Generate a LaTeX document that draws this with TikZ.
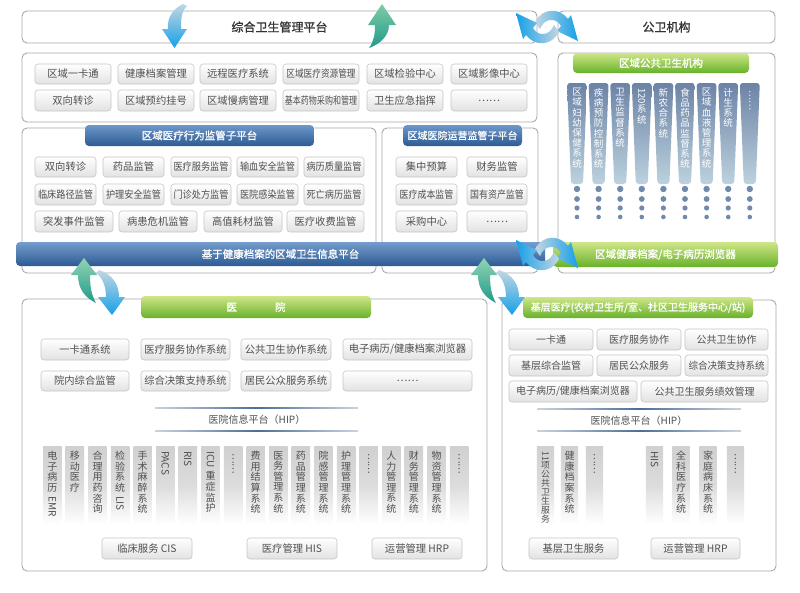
\documentclass[tikz,border=0pt]{standalone}
\usepackage{fontspec}
\usepackage{graphicx}
\setmainfont{Noto Sans CJK SC}
\newfontfamily\bcjk[FakeBold=1]{Noto Sans CJK SC}
\definecolor{bordc}{HTML}{A8A8A8}
\definecolor{btnb}{HTML}{C6C6C6}
\definecolor{btnbot}{HTML}{E2E2E2}
\definecolor{txt}{HTML}{505050}
\definecolor{ttl}{HTML}{333333}
\definecolor{bluet}{HTML}{6E98CA}
\definecolor{blueb}{HTML}{2C5A92}
\definecolor{greent}{HTML}{CFE688}
\definecolor{greenb}{HTML}{68B22A}
\definecolor{pcolt}{HTML}{6C83A6}
\definecolor{pcolb}{HTML}{BCD2DE}
\definecolor{dotc}{HTML}{7089AC}
\definecolor{arrb}{HTML}{15A0E8}
\definecolor{arrp}{HTML}{C3D6E2}
\definecolor{arrg}{HTML}{7ECCA5}
\definecolor{arrgd}{HTML}{1F9A8A}
\definecolor{hipc}{HTML}{4E6E96}
\definecolor{hcol}{HTML}{D0D0D0}
\newcommand\rl[1]{\rotatebox[origin=c]{-90}{#1}}
\newcommand\sq[2][0.89]{\scalebox{#1}[1]{#2}}
\newcommand\mk[7]{\node[#1,minimum width={#5-#3},minimum height={#6-#4}] (#2) at ({(#3+#5)/2},{(#4+#6)/2}) {#7};}
\begin{document}
\begin{tikzpicture}[x=1pt,y=-1pt,
  boxst/.style={draw=bordc,line width=0.9pt,rounded corners=5pt,fill=white,inner sep=0pt},
  ttlf/.style={font=\bcjk\fontsize{12}{14}\selectfont,text=ttl},
  btn/.style={draw=btnb,line width=0.6pt,rounded corners=3pt,top color=white,bottom color=btnbot,text=txt,font=\fontsize{10.3}{12}\selectfont,inner sep=0pt},
  hb/.style={top color=bluet,bottom color=blueb,rounded corners=4pt,text=white,font=\bcjk\fontsize{10.5}{12}\selectfont,inner sep=0pt},
  hg/.style={top color=greent,bottom color=greenb,rounded corners=4pt,text=white,font=\bcjk\fontsize{10.5}{12}\selectfont,inner sep=0pt},
  vt/.style={anchor=north,align=center,inner sep=0pt,text=txt,font=\fontsize{10}{10.6}\selectfont},
  vtw/.style={anchor=north,align=center,inner sep=0pt,text=white,font=\fontsize{9.5}{10.2}\selectfont},
  hiptxt/.style={text=txt,font=\fontsize{10}{12}\selectfont,inner sep=0pt}]
\useasboundingbox (0,0) rectangle (800,592);
\fill[white] (0,0) rectangle (800,592);

% ---------- boxes ----------
\mk{boxst,ttlf}{top}{22}{11}{537}{43}{综合卫生管理平台}
\mk{boxst,ttlf}{gw}{558}{11}{775}{43}{公卫机构}
\mk{boxst}{fun}{22}{53}{537}{122}{}
\mk{boxst}{pub}{558}{53}{775}{273}{}
\mk{boxst}{mon}{22}{128}{376}{273}{}
\mk{boxst}{ops}{382}{128}{538}{273}{}
\mk{boxst}{hos}{22}{299}{487}{571}{}
\mk{boxst}{bas}{502}{300}{776}{571}{}

% ---------- function buttons ----------
\mk{btn}{f1}{35}{64}{111}{84}{区域一卡通}
\mk{btn}{f2}{118}{64}{194}{84}{健康档案管理}
\mk{btn}{f3}{200}{64}{276}{84}{远程医疗系统}
\mk{btn}{f4}{283}{64}{359}{84}{\sq[0.84]{区域医疗资源管理}}
\mk{btn}{f5}{367}{64}{443}{84}{区域检验中心}
\mk{btn}{f6}{451}{64}{527}{84}{区域影像中心}
\mk{btn}{f7}{35}{90}{111}{111}{双向转诊}
\mk{btn}{f8}{118}{90}{194}{111}{区域预约挂号}
\mk{btn}{f9}{200}{90}{276}{111}{区域慢病管理}
\mk{btn}{f10}{283}{90}{359}{111}{\sq[0.78]{基本药物采购和管理}}
\mk{btn}{f11}{367}{90}{443}{111}{卫生应急指挥}
\mk{btn}{f12}{451}{90}{527}{111}{……}

% ---------- monitoring sub-platform ----------
\mk{hb}{monh}{85}{125}{314}{146}{区域医疗行为监管子平台}
\mk{btn}{m1}{35}{157}{96}{177}{双向转诊}
\mk{btn}{m2}{103}{157}{164}{177}{药品监管}
\mk{btn}{m3}{171}{157}{231}{177}{\sq{医疗服务监管}}
\mk{btn}{m4}{237}{157}{298}{177}{\sq{输血安全监管}}
\mk{btn}{m5}{304}{157}{364}{177}{\sq{病历质量监管}}
\mk{btn}{m6}{35}{184}{96}{205}{\sq{临床路径监管}}
\mk{btn}{m7}{103}{184}{164}{205}{\sq{护理安全监管}}
\mk{btn}{m8}{171}{184}{231}{205}{\sq{门诊处方监管}}
\mk{btn}{m9}{237}{184}{298}{205}{\sq{医院感染监管}}
\mk{btn}{m10}{304}{184}{364}{205}{\sq{死亡病历监管}}
\mk{btn}{m11}{35}{211}{113}{232}{突发事件监管}
\mk{btn}{m12}{119}{211}{197}{232}{病患危机监管}
\mk{btn}{m13}{204}{211}{282}{232}{高值耗材监管}
\mk{btn}{m14}{287}{211}{364}{232}{医疗收费监管}

% ---------- operations sub-platform ----------
\mk{hb,font=\bcjk\fontsize{10}{12}\selectfont}{opsh}{403}{125}{522}{146}{区域医院运营监管子平台}
\mk{btn}{o1}{396}{157}{457}{177}{集中预算}
\mk{btn}{o2}{467}{157}{527}{177}{财务监管}
\mk{btn}{o3}{396}{184}{457}{205}{\sq[0.87]{医疗成本监管}}
\mk{btn}{o4}{467}{184}{527}{205}{\sq[0.87]{国有资产监管}}
\mk{btn}{o5}{396}{211}{457}{232}{采购中心}
\mk{btn}{o6}{467}{211}{527}{232}{……}

% ---------- public health institutions ----------
\mk{hg}{pubh}{573}{53}{749}{73}{区域公共卫生机构}
\foreach \i in {0,...,8}{
  \pgfmathsetmacro\cx{577+21.6*\i}
  \shade[top color=pcolt,bottom color=pcolb,rounded corners=3pt]
    ({\cx-10},83) -- ({\cx+10},83) -- ({\cx+6},184) -- ({\cx-6},184) -- cycle;
  \fill[dotc] (\cx,189) circle (3.2);
  \fill[dotc] (\cx,199) circle (2.9);
  \fill[dotc] (\cx,208) circle (2.6);
  \fill[dotc] (\cx,217) circle (2.3);
}
\node[vtw] (p1) at (577,88) {区\\域\\妇\\幼\\保\\健\\系\\统};
\node[vtw] (p2) at (598.6,88) {疾\\病\\预\\防\\控\\制\\系\\统};
\node[vtw] (p3) at (620.2,88) {卫\\生\\监\\督\\系\\统};
\node[vtw] (p4) at (641.8,88) {\rl{120}\\系\\统};
\node[vtw] (p5) at (663.4,88) {新\\农\\合\\系\\统};
\node[vtw] (p6) at (685,88) {食\\品\\药\\品\\监\\督\\系\\统};
\node[vtw] (p7) at (706.6,88) {区\\域\\血\\液\\管\\理\\系\\统};
\node[vtw] (p8) at (728.2,88) {计\\生\\系\\统};
\node[vtw] (p9) at (749.8,90) {\rl{……}};

% ---------- regional platform bars ----------
\mk{hb,top color=bluet!95!white}{plat}{16}{242}{545}{266}{基于健康档案的区域卫生信息平台}
\mk{hg}{brw}{553}{242}{778}{267}{区域健康档案/电子病历浏览器}

% ---------- hospital ----------
\mk{hg}{hosh}{141}{296}{371}{318}{医\hspace{38pt}院}
\mk{btn}{h1}{41}{339}{129}{360}{一卡通系统}
\mk{btn}{h2}{141}{339}{230}{360}{医疗服务协作系统}
\mk{btn}{h3}{241}{339}{331}{360}{公共卫生协作系统}
\mk{btn}{h4}{343}{339}{472}{360}{电子病历/健康档案浏览器}
\mk{btn}{h5}{41}{371}{129}{391}{院内综合监管}
\mk{btn}{h6}{141}{371}{230}{391}{综合决策支持系统}
\mk{btn}{h7}{241}{371}{331}{391}{居民公众服务系统}
\mk{btn}{h8}{343}{371}{472}{391}{……}
\shade[left color=hipc!30,right color=hipc!30,middle color=hipc] (155,407.4) rectangle (358,408.9);
\shade[left color=hipc!30,right color=hipc!30,middle color=hipc] (155,430.4) rectangle (358,431.9);
\node[hiptxt] (hip1) at (257,420) {医院信息平台（HIP）};
\foreach \i in {0,...,18}{
  \pgfmathsetmacro\cx{52.3+22.6*\i}
  \shade[top color=hcol,bottom color=white,middle color=hcol!75] ({\cx-9.2},446) rectangle ({\cx+9.2},524);
}
\node[vt] (c1) at (52.3,451) {电\\子\\病\\历\\[3pt]\rl{EMR}};
\node[vt] (c2) at (74.9,451) {移\\动\\医\\疗};
\node[vt] (c3) at (97.5,451) {合\\理\\用\\药\\咨\\询};
\node[vt] (c4) at (120.1,451) {检\\验\\系\\统\\[3pt]\rl{LIS}};
\node[vt] (c5) at (142.7,451) {手\\术\\麻\\醉\\系\\统};
\node[vt] (c6) at (165.3,451) {\rl{PACS}};
\node[vt] (c7) at (187.9,451) {\rl{RIS}};
\node[vt] (c8) at (210.5,451) {\rl{ICU}\\[3pt]重\\症\\监\\护};
\node[vt] (c9) at (233.1,453) {\rl{……}};
\node[vt] (c10) at (255.7,451) {费\\用\\结\\算\\系\\统};
\node[vt] (c11) at (278.3,451) {医\\务\\管\\理\\系\\统};
\node[vt] (c12) at (300.9,451) {药\\品\\管\\理\\系\\统};
\node[vt] (c13) at (323.5,451) {院\\感\\管\\理\\系\\统};
\node[vt] (c14) at (346.1,451) {护\\理\\管\\理\\系\\统};
\node[vt] (c15) at (368.7,453) {\rl{……}};
\node[vt] (c16) at (391.3,451) {人\\力\\管\\理\\系\\统};
\node[vt] (c17) at (413.9,451) {财\\务\\管\\理\\系\\统};
\node[vt] (c18) at (436.5,451) {物\\资\\管\\理\\系\\统};
\node[vt] (c19) at (459.1,453) {\rl{……}};
\mk{btn}{cis}{102}{538}{192}{559}{临床服务 CIS}
\mk{btn}{his}{247}{538}{337}{559}{医疗管理 HIS}
\mk{btn}{hrp}{372}{538}{462}{559}{运营管理 HRP}

% ---------- primary care ----------
\mk{hg,font=\bcjk\fontsize{10}{12}\selectfont}{bash}{523}{297}{753}{318}{基层医疗(农村卫生所/室、社区卫生服务中心/站)}
\mk{btn,font=\fontsize{10}{12}\selectfont}{k1}{509}{329}{593}{350}{一卡通}
\mk{btn,font=\fontsize{10}{12}\selectfont}{k2}{597}{329}{681}{350}{医疗服务协作}
\mk{btn,font=\fontsize{10}{12}\selectfont}{k3}{685}{329}{768}{350}{公共卫生协作}
\mk{btn,font=\fontsize{10}{12}\selectfont}{k4}{509}{355}{593}{376}{基层综合监管}
\mk{btn,font=\fontsize{10}{12}\selectfont}{k5}{597}{355}{681}{376}{居民公众服务}
\mk{btn,font=\fontsize{10}{12}\selectfont}{k6}{685}{355}{768}{376}{\sq[0.95]{综合决策支持系统}}
\mk{btn,font=\fontsize{10}{12}\selectfont}{k7}{509}{381}{637}{402}{电子病历/健康档案浏览器}
\mk{btn,font=\fontsize{10}{12}\selectfont}{k8}{641}{381}{768}{402}{公共卫生服务绩效管理}
\shade[left color=hipc!30,right color=hipc!30,middle color=hipc] (537,408.4) rectangle (741,409.9);
\shade[left color=hipc!30,right color=hipc!30,middle color=hipc] (537,430.4) rectangle (741,431.9);
\node[hiptxt] (hip2) at (639,421) {医院信息平台（HIP）};
\foreach \cx in {545.5,569.5,594.5,654.5,681,708,735.5}{
  \shade[top color=hcol,bottom color=white,middle color=hcol!75] ({\cx-8.7},446) rectangle ({\cx+8.7},524);
}
\node[vt,font=\fontsize{8.8}{9}\selectfont] (d1) at (545.5,451) {\rl{11}\\项\\公\\共\\卫\\生\\服\\务};
\node[vt] (d2) at (569.5,451) {健\\康\\档\\案\\系\\统};
\node[vt] (d3) at (594.5,453) {\rl{……}};
\node[vt] (d4) at (654.5,451) {\rl{HIS}};
\node[vt] (d5) at (681,451) {全\\科\\医\\疗\\系\\统};
\node[vt] (d6) at (708,451) {家\\庭\\病\\床\\系\\统};
\node[vt] (d7) at (735.5,453) {\rl{……}};
\mk{btn}{jc}{529}{538}{618}{559}{基层卫生服务}
\mk{btn}{hrp2}{651}{538}{740}{559}{运营管理 HRP}

% ---------- arrows ----------
\shade[top color=arrp,bottom color=arrb] (168,29) .. controls (167,17) and (173,9) .. (183,4) -- (187,6) .. controls (181,12) and (181,20) .. (181,29) -- (187,29) -- (174.5,48) -- (162,29) -- cycle;
\shade[top color=arrg,bottom color=arrgd] (382,4) -- (396,25) -- (389,25) .. controls (389,36) and (380,44) .. (369,48) .. controls (374,41) and (375,34) .. (375,25) -- (368,25) -- cycle;
\foreach \dx in {0,400}{
  \begin{scope}[shift={(\dx,0)}]
    \shade[top color=arrg!85!white,bottom color=arrgd] (84,258) -- (97,275) -- (90,275) .. controls (90,288) and (92,296) .. (96,303) .. controls (84,297) and (78,288) .. (78,275) -- (71,275) -- cycle;
    \shade[top color=arrp,bottom color=arrb] (99,270) .. controls (114,275) and (119,286) .. (119,297) -- (125,297) -- (112,315) -- (98,297) -- (106,297) .. controls (106,287) and (103,278) .. (96,273) -- cycle;
  \end{scope}
}
\foreach \dy in {0,227}{
  \begin{scope}[shift={(0,\dy)}]
    \shade[left color=arrp,right color=arrb] (540,29) .. controls (544,18) and (556,17) .. (561,26) -- (557,31) -- (578,41) -- (571,15) -- (568,19) .. controls (560,8) and (543,7) .. (535,22) -- cycle;
    \shade[left color=arrb,right color=arrp] (554,25) .. controls (550,36) and (538,37) .. (533,28) -- (537,23) -- (516,13) -- (523,39) -- (526,35) .. controls (534,46) and (551,47) .. (559,32) -- cycle;
  \end{scope}
}
\end{tikzpicture}
\end{document}
